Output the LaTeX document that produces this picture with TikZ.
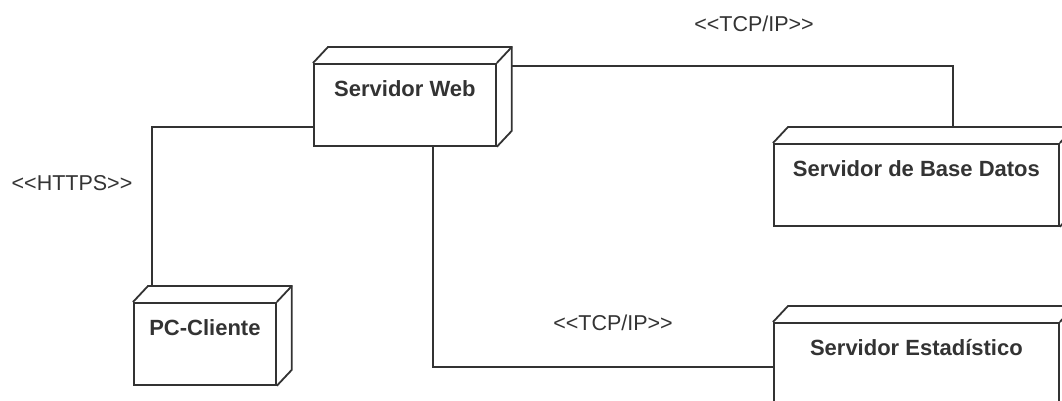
\documentclass[tikz,border=0pt]{standalone}
\usepackage{fontspec}
\setmainfont{Liberation Sans}
\usetikzlibrary{calc}

\tikzset{
  nodo/.style={draw, rectangle, anchor=north west, inner xsep=0pt, inner ysep=0pt,
    text height=32.5pt, text depth=49.5pt,
    font=\bfseries\fontsize{22}{26}\selectfont},
  estereotipo/.style={font=\fontsize{21.5}{26}\selectfont}
}

\begin{document}
\begin{tikzpicture}[x=1pt, y=-1pt, line width=1.8pt, color=black!80]
  \useasboundingbox (0,0) rectangle (1062,400);
  \clip (0,0) rectangle (1062,400);
  \fill[white] (0,0) rectangle (1062,400);

  % nodos
  \node[nodo, minimum width=182pt] (web) at (313,63) {Servidor Web};
  \node[nodo, minimum width=285pt] (bd) at (773,143) {Servidor de Base Datos};
  \node[nodo, minimum width=142pt] (pc) at (133,302) {PC-Cliente};
  \node[nodo, minimum width=285pt] (est) at (773,322) {Servidor Estad\'istico};

  % caras 3D
  \foreach \n in {web,bd,pc,est}{
    \draw (\n.north west) -- ++(15,-16) -| ($(\n.south east)+(15,-16)$) -- (\n.south east);
    \draw (\n.north east) -- ++(15,-16);
  }

  % conexiones
  \draw ([xshift=15pt,yshift=-3pt]web.north east) -| ([xshift=180pt,yshift=16pt]bd.north west);
  \draw ([yshift=-64pt]web.north west) -| ([xshift=19pt,yshift=16pt]pc.north west);
  \draw ([xshift=120pt]web.south west) |- ([yshift=-45pt]est.north west);

  % estereotipos
  \node[estereotipo] (tcpa) at (754,24) {<{}<TCP/IP>{}>};
  \node[estereotipo] (https) at (72,183) {<{}<HTTPS>{}>};
  \node[estereotipo] (tcpb) at (613,323) {<{}<TCP/IP>{}>};
\end{tikzpicture}
\end{document}
